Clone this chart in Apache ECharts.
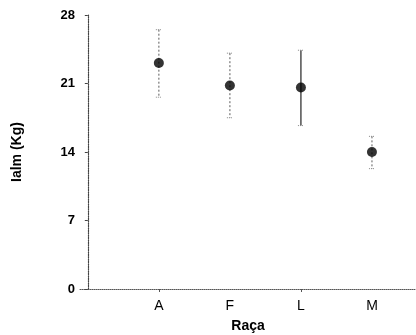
<!DOCTYPE html>
<html><head><meta charset="utf-8">
<script src="https://cdn.jsdelivr.net/npm/echarts@6/dist/echarts.min.js"></script>
<style>html,body{margin:0;padding:0;background:#fff}#c{width:416px;height:335px}</style>
</head><body><div id="c"></div>
<script>
var categories = ["A", "F", "L", "M"];
var means = [23.1, 20.8, 20.6, 14.0];
var upper = [26.5, 24.1, 24.4, 15.6];
var lower = [19.6, 17.5, 16.7, 12.3];
var yTicks = [0, 7, 14, 21, 28];
var barStyles = ["dotted", "dotted", "solid", "dotted"];

var chart = echarts.init(document.getElementById('c'), null, {renderer: 'canvas'});
var pos = categories.map(function (c, i) { return i + 1; });
var pts = pos.map(function (p, i) { return [p, means[i]]; });
var errs = pos.map(function (p, i) { return [p, lower[i], upper[i], i]; });

chart.setOption({
  animation: false,
  textStyle: {fontFamily: 'Liberation Sans, Arial, sans-serif'},
  grid: {left: 80, right: 0, top: 15, bottom: 46, outerBoundsMode: 'none', containLabel: false},
  xAxis: {
    type: 'value', min: -0.11, max: 4.62,
    name: 'Raça', nameLocation: 'middle', nameGap: 30,
    nameTextStyle: {fontWeight: 'bold', fontSize: 14, color: '#000'},
    axisLine: {lineStyle: {color: '#555', type: 'dotted', width: 1}},
    axisTick: {show: true, length: 3, customValues: [1, 3], lineStyle: {color: '#555'}},
    axisLabel: {customValues: pos, color: '#000', fontSize: 14, margin: 10,
      formatter: function (v) { return categories[Math.round(v) - 1] || ''; }},
    splitLine: {show: false}
  },
  yAxis: {
    type: 'value', min: 0, max: 28, interval: 7,
    name: 'Ialm (Kg)', nameLocation: 'middle', nameGap: 56, nameRotate: 90,
    nameTextStyle: {fontWeight: 'bold', fontSize: 14, color: '#000'},
    axisLine: {show: true, lineStyle: {color: '#444', type: 'dotted', width: 1.2}},
    axisTick: {show: true, length: 3, lineStyle: {color: '#444'}},
    axisLabel: {color: '#000', fontWeight: 'bold', fontSize: 13, margin: 5,
      formatter: function (v) { return yTicks.indexOf(v) >= 0 ? String(v) : ''; }},
    splitLine: {show: false}
  },
  series: [
    {
      type: 'custom',
      data: errs,
      renderItem: function (params, api) {
        var x = api.value(0);
        var lo = api.coord([x, api.value(1)]);
        var hi = api.coord([x, api.value(2)]);
        var idx = api.value(3);
        var st = {stroke: idx === 2 ? '#333' : '#777', lineWidth: idx === 2 ? 1.3 : 1.2,
          lineDash: barStyles[idx] === 'dotted' ? [2, 2] : null};
        var cw = 3;
        return {type: 'group', children: [
          {type: 'line', shape: {x1: hi[0], y1: hi[1], x2: lo[0], y2: lo[1]}, style: st},
          {type: 'line', shape: {x1: hi[0] - cw, y1: hi[1], x2: hi[0] + cw, y2: hi[1]}, style: {stroke: '#888', lineWidth: 1, lineDash: [1, 1]}},
          {type: 'line', shape: {x1: lo[0] - cw, y1: lo[1], x2: lo[0] + cw, y2: lo[1]}, style: {stroke: '#888', lineWidth: 1, lineDash: [1, 1]}}
        ]};
      },
      z: 2
    },
    {
      type: 'scatter', data: pts, symbol: 'circle', symbolSize: 10,
      itemStyle: {color: '#000'}, z: 3
    }
  ]
});
</script></body></html>
